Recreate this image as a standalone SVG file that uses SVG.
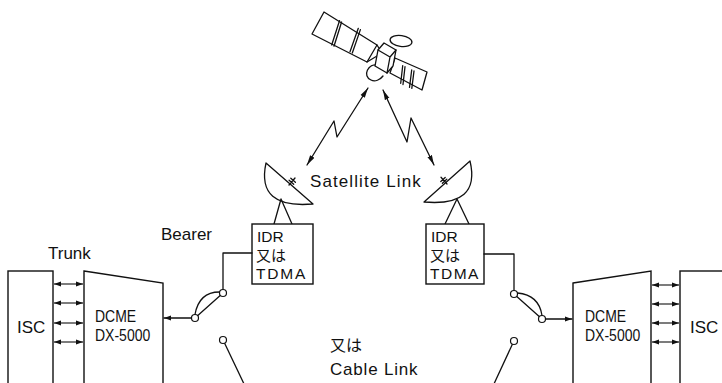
<svg xmlns="http://www.w3.org/2000/svg" width="722" height="383" viewBox="0 0 722 383">
  <style>
    .ln { fill: none; stroke: #111; stroke-width: 1.3; stroke-linejoin: round; stroke-linecap: round; }
    .box { fill: #fff; stroke: #111; stroke-width: 1.4; }
    .t { font-family: "Liberation Sans", "Noto Sans CJK JP", sans-serif; font-size: 17px; fill: #111; }
    .tb { font-family: "Liberation Sans", "Noto Sans CJK JP", sans-serif; font-size: 15.5px; fill: #111; }
    .ts { font-family: "Liberation Sans", sans-serif; font-size: 14px; fill: #111; }
    .cj { font-family: "Noto Sans CJK JP", sans-serif; font-size: 16px; fill: #111; }
    .cjb { font-family: "Noto Sans CJK JP", sans-serif; font-size: 15px; fill: #111; }
    .node { fill: #fff; stroke: #111; stroke-width: 1.2; }
    .trunk { stroke: #111; stroke-width: 1.1; marker-start: url(#sm); marker-end: url(#sm); }
  </style>
  <defs>
    <marker id="sm" markerUnits="userSpaceOnUse" markerWidth="7" markerHeight="6" refX="7" refY="3" orient="auto-start-reverse">
      <path d="M0,0.6 L7,3 L0,5.4 z" fill="#111"/>
    </marker>
    <marker id="bolt" markerUnits="userSpaceOnUse" markerWidth="10" markerHeight="6" refX="10" refY="3" orient="auto-start-reverse">
      <path d="M0,0.5 L10,3 L0,5.5 z" fill="#111"/>
    </marker>
  </defs>

  <rect width="722" height="383" fill="#fff"/>

  <!-- satellite -->
  <g id="satellite" class="ln">
    <!-- left solar panel with strut -->
    <path d="M324,12 L377,45 L367,62 L312,34 Z" fill="#fff"/>
    <path d="M377,45 L382,53 L367,62"/>
    <path d="M331.7,45 L339.5,20.7 M334,46.2 L341.6,22"/>
    <path d="M350,51.8 L358.3,28.3 M352.3,53 L360.4,29.6"/>
    <!-- right solar panel -->
    <path d="M395,58 L427,72 L422,90 L390,73 Z" fill="#fff"/>
    <path d="M402.7,65.7 L400.7,83.3 M405,66.7 L403,84.5"/>
    <path d="M411.7,70 L409.5,87.3 M414,71 L411.8,88.4"/>
    <!-- lower dish -->
    <path d="M378,65 C368,63 362,76 371,80 C375,82 380,80 383,76" fill="#fff"/>
    <!-- body -->
    <path d="M384,43 L396,50 L393,66 L387,73 L375,66 L378,50 Z" fill="#fff"/>
    <path d="M378,50 L390,57 L396,50 M390,57 L387,73"/>
    <!-- top antenna -->
    <ellipse cx="401" cy="41" rx="11" ry="5.5" transform="rotate(8 401 41)" fill="#fff"/>
  </g>

  <!-- left earth station -->
  <g id="dish-left" class="ln">
    <path d="M266,163 Q256,209 313,204 Z" fill="#fff"/>
    <path d="M289,185 L295,178 M289.1,180.3 L293.7,184.3 M290.8,178.2 L295.4,182.2"/>
    <path d="M274,224 L281,199 L292,224"/>
  </g>
  <g id="idr-left">
    <rect class="box" x="252" y="224" width="61" height="60"/>
    <text class="tb" x="257" y="242">IDR</text>
    <text class="cjb" x="256" y="261">又は</text>
    <text class="tb" x="256" y="279" letter-spacing="1.8">TDMA</text>
  </g>

  <!-- right earth station -->
  <g id="dish-right" class="ln">
    <path d="M470,161 Q481,207 424,202 Z" fill="#fff"/>
    <path d="M447,184 L441,177.3 M442.4,183.3 L446.8,179.3 M440.8,181.5 L445.2,177.5"/>
    <path d="M445,224 L457,199 L469,224"/>
  </g>
  <g id="idr-right">
    <rect class="box" x="426" y="224" width="58" height="60"/>
    <text class="tb" x="431" y="242">IDR</text>
    <text class="cjb" x="430" y="261">又は</text>
    <text class="tb" x="430" y="279" letter-spacing="1.5">TDMA</text>
  </g>

  <!-- terminal equipment -->
  <g id="isc-left">
    <rect class="box" x="8" y="271" width="45" height="130"/>
    <text class="t" x="17" y="333">ISC</text>
  </g>
  <g id="dcme-left">
    <path class="box" d="M84,271 L163,283 L163,400 L84,400 Z"/>
    <text class="ts" transform="translate(95,322) scale(1,1.22)">DCME</text>
    <text class="ts" transform="translate(95,341) scale(1,1.22)">DX-5000</text>
  </g>
  <g id="dcme-right">
    <path class="box" d="M573,283 L651,271 L651,400 L573,400 Z"/>
    <text class="ts" transform="translate(585,322) scale(1,1.22)">DCME</text>
    <text class="ts" transform="translate(585,341) scale(1,1.22)">DX-5000</text>
  </g>
  <g id="isc-right">
    <rect class="box" x="680" y="271" width="60" height="130"/>
    <text class="t" x="690" y="333">ISC</text>
  </g>

  <!-- connectors -->
  <g id="connectors">
    <!-- radio paths -->
    <path class="ln" d="M368,88 L337,137 L334,121 L307,165" marker-start="url(#bolt)" marker-end="url(#bolt)"/>
    <path class="ln" d="M383,90 L407,142 L411,118 L434,165" marker-start="url(#bolt)" marker-end="url(#bolt)"/>

    <!-- trunks -->
    <line class="trunk" x1="54" y1="284" x2="83" y2="284"/>
    <line class="trunk" x1="54" y1="303" x2="83" y2="303"/>
    <line class="trunk" x1="54" y1="323" x2="83" y2="323"/>
    <line class="trunk" x1="54" y1="342" x2="83" y2="342"/>
    <line class="trunk" x1="652" y1="285" x2="679" y2="285"/>
    <line class="trunk" x1="652" y1="304" x2="679" y2="304"/>
    <line class="trunk" x1="652" y1="323" x2="679" y2="323"/>
    <line class="trunk" x1="652" y1="342" x2="679" y2="342"/>

    <!-- bearer, left side -->
    <path class="ln" d="M252,253 L223,253 L223,289.5"/>
    <path class="ln" d="M191.5,318 L164,318" marker-end="url(#sm)"/>
    <path class="ln" d="M195,318 L223,293"/>
    <path class="ln" d="M195,314.5 Q199,292 219.5,292"/>
    <circle class="node" cx="223" cy="293" r="3.5"/>
    <circle class="node" cx="195" cy="318" r="3.5"/>

    <!-- bearer, right side -->
    <path class="ln" d="M484,254 L514,254 L514,290.5"/>
    <path class="ln" d="M545.5,319 L572,319" marker-end="url(#sm)"/>
    <path class="ln" d="M514,294 L542,319"/>
    <path class="ln" d="M517.5,293 Q539,295 542,315.5"/>
    <circle class="node" cx="514" cy="294" r="3.5"/>
    <circle class="node" cx="542" cy="319" r="3.5"/>

    <!-- cable alternative -->
    <path class="ln" d="M224.5,343 L245,386"/>
    <circle class="node" cx="223" cy="340" r="3.5"/>
    <path class="ln" d="M512.5,344 L493,386"/>
    <circle class="node" cx="514" cy="341" r="3.5"/>
  </g>

  <!-- labels -->
  <text class="t" x="48" y="259">Trunk</text>
  <text class="t" x="161" y="240">Bearer</text>
  <text class="t" x="310" y="187" letter-spacing="1.1">Satellite Link</text>
  <text class="cj" x="330" y="351">又は</text>
  <text class="t" x="330" y="375" letter-spacing="0.8">Cable Link</text>
</svg>
